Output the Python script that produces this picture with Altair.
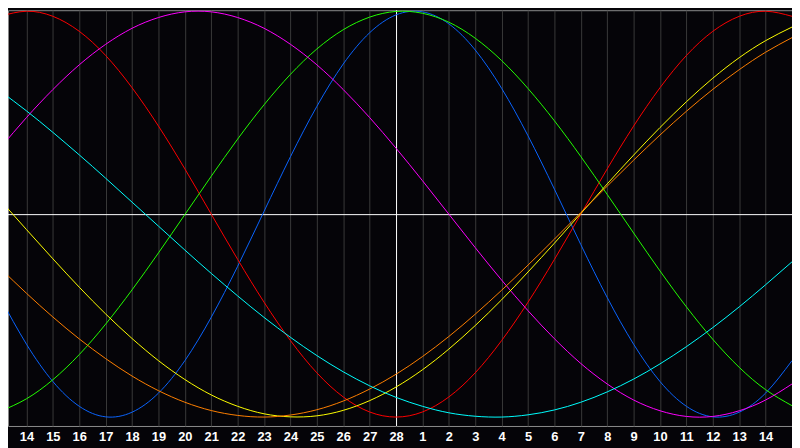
import altair as alt
import pandas as pd

# sample days (13 .. 43); days after 28 are shown as 1, 2, ... of the next month
days = list(range(13, 44))
tick_days = list(range(14, 43))
today = 28

series_names = ["Physical", "Emotional", "Intellectual", "Intuitive",
                "Aesthetic", "Awareness", "Spiritual"]
series_colors = ["#0a64ff", "#ff0000", "#22ff00", "#ff00ff",
                 "#ffff00", "#ff8000", "#00ffff"]

physical = [-0.411, -0.641, -0.825, -0.947, -0.999, -0.976, -0.882, -0.722, -0.508, -0.257,
            0.014, 0.283, 0.531, 0.740, 0.894, 0.982, 0.997, 0.938, 0.809, 0.620,
            0.386, 0.123, -0.150, -0.411, -0.641, -0.825, -0.947, -0.999, -0.976, -0.882, -0.722]
emotional = [0.975, 1.0, 0.975, 0.901, 0.782, 0.623, 0.434, 0.223, 0.0, -0.223,
             -0.434, -0.623, -0.782, -0.901, -0.975, -1.0, -0.975, -0.901, -0.782, -0.623,
             -0.434, -0.223, 0.0, 0.223, 0.434, 0.623, 0.782, 0.901, 0.975, 1.0, 0.975]
intellectual = [-0.972, -0.910, -0.816, -0.692, -0.542, -0.373, -0.191, -0.002, 0.187, 0.370,
                0.539, 0.689, 0.814, 0.909, 0.971, 0.999, 0.990, 0.946, 0.867, 0.757,
                0.619, 0.460, 0.284, 0.097, -0.093, -0.280, -0.457, -0.617, -0.755, -0.865, -0.944]
intuitive = [0.325, 0.476, 0.614, 0.736, 0.837, 0.916, 0.969, 0.997, 0.997, 0.969,
             0.916, 0.837, 0.736, 0.614, 0.476, 0.325, 0.165, 0.0, -0.165, -0.325,
             -0.476, -0.614, -0.736, -0.837, -0.916, -0.969, -0.997, -0.997, -0.969, -0.916, -0.837]
aesthetic = [0.070, -0.076, -0.220, -0.360, -0.492, -0.613, -0.722, -0.815, -0.891, -0.947,
             -0.984, -0.999, -0.994, -0.967, -0.919, -0.852, -0.767, -0.665, -0.549, -0.422,
             -0.285, -0.143, 0.003, 0.149, 0.291, 0.427, 0.554, 0.670, 0.771, 0.855, 0.922]
awareness = [-0.266, -0.390, -0.507, -0.615, -0.712, -0.798, -0.870, -0.927, -0.968, -0.992,
             -1.0, -0.990, -0.964, -0.921, -0.862, -0.789, -0.702, -0.603, -0.493, -0.375,
             -0.251, -0.123, 0.008, 0.138, 0.266, 0.390, 0.507, 0.615, 0.712, 0.798, 0.870]
spiritual = [0.607, 0.509, 0.403, 0.292, 0.177, 0.059, -0.059, -0.177, -0.292, -0.403,
             -0.509, -0.607, -0.697, -0.777, -0.846, -0.903, -0.947, -0.979, -0.996, -1.0,
             -0.989, -0.965, -0.927, -0.876, -0.813, -0.738, -0.653, -0.559, -0.457, -0.348, -0.235]

all_series = [physical, emotional, intellectual, intuitive, aesthetic, awareness, spiritual]

rows = []
for name, vals in zip(series_names, all_series):
    for d, v in zip(days, vals):
        rows.append({"day": d, "value": v, "cycle": name})
df = pd.DataFrame(rows)

x_scale = alt.Scale(domain=[13.3, 43], nice=False, zero=False)
y_scale = alt.Scale(domain=[-1.044, 1.005], nice=False, zero=False)

x_axis = alt.Axis(
    values=tick_days,
    labelExpr="datum.value > 28 ? datum.value - 28 : datum.value",
    grid=True, gridColor="#3a3a3a", gridWidth=1,
    ticks=False, tickSize=0, domain=False,
    labelColor="#ffffff", labelFont="Liberation Sans", labelFontSize=13,
    labelFontWeight="bold", labelPadding=15, labelBaseline="alphabetic",
    labelFlush=False, labelOverlap=False, labelSeparation=0, labelBound=False,
    title=None,
)

lines = alt.Chart(df).mark_line(interpolate="natural", strokeWidth=1, clip=True).encode(
    x=alt.X("day:Q", scale=x_scale, axis=x_axis),
    y=alt.Y("value:Q", scale=y_scale, axis=None),
    color=alt.Color("cycle:N", scale=alt.Scale(domain=series_names, range=series_colors), legend=None),
    detail="cycle:N",
)

center = alt.Chart(pd.DataFrame({"day": [today]})).mark_rule(
    color="#ffffff", strokeWidth=1, xOffset=0.5
).encode(x=alt.X("day:Q", scale=x_scale, axis=x_axis))

zero = alt.Chart(pd.DataFrame({"value": [0]})).mark_rule(
    color="#ffffff", strokeWidth=1, yOffset=0.5
).encode(y=alt.Y("value:Q", scale=y_scale, axis=None))

chart = alt.layer(center, zero, lines).properties(
    width=792, height=420,
    padding={"left": 0, "right": 0, "top": 0, "bottom": 20},
    autosize=alt.AutoSizeParams(type="none"),
).configure(
    background="#050408",
).configure_axis(
    labelOverlap=False,
).configure_view(
    stroke="#8c8c8c", strokeWidth=1, fill="#050408",
)

chart.save("out.html", embed_options={"renderer": "svg", "actions": False})
